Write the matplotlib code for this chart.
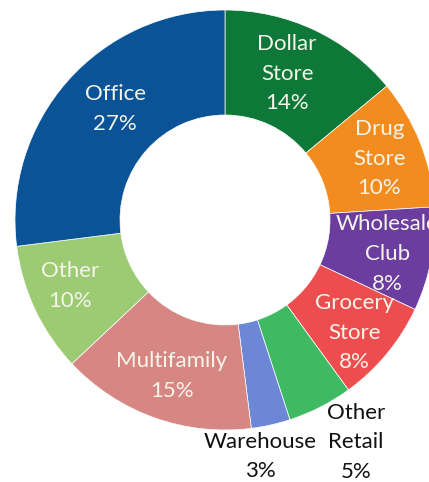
import numpy as np
import matplotlib
matplotlib.use("Agg")
import matplotlib.pyplot as plt

categories = ["Dollar\nStore", "Drug\nStore", "Wholesale\nClub", "Grocery\nStore",
              "Other\nRetail", "Warehouse", "Multifamily", "Other", "Office"]
values = [14, 10, 8, 8, 5, 3, 15, 10, 27]
colors = ["#0d7838", "#f28c1f", "#6a3d9e", "#ee4d50", "#3fba63", "#6b87d5",
          "#d68683", "#9ccb74", "#0a5396"]

W, H = 429, 482
fig = plt.figure(figsize=(W / 100, H / 100), dpi=100)
ax = fig.add_axes([0, 0, 1, 1])

cx, cy = 225, H - 220
R, r = 210, 105

wedges, _ = ax.pie(values, colors=colors, startangle=90, counterclock=False,
                   center=(cx, cy), radius=R, frame=True,
                   wedgeprops=dict(width=R - r, edgecolor="white", linewidth=0.5))
ax.set_xlim(0, W)
ax.set_ylim(0, H)
ax.set_aspect("equal")
ax.axis("off")

font = ["Lato", "DejaVu Sans"]
# label layout: radial distance (px), angular offset (deg), inside ring?
label_r = [159, 166, 166, 172, 258, 239, 165, 168, 156]
label_dang = [2.2, 0.0, -1.0, -1.4, 3.5, -4.2, 1.0, -2.1, -3.9]
inside = [True, True, True, True, False, False, True, True, True]
for w, cat, v, lr, da, ins in zip(wedges, categories, values, label_r, label_dang, inside):
    mid = np.deg2rad((w.theta1 + w.theta2) / 2 + da)
    x = cx + lr * np.cos(mid)
    y = cy + lr * np.sin(mid)
    ax.text(x, y, f"{cat}\n{v}%", ha="center", va="center", fontsize=16,
            family=font, linespacing=1.6,
            color="#f5f5ea" if ins else "#111111")

fig.savefig("out.png", dpi=100)
